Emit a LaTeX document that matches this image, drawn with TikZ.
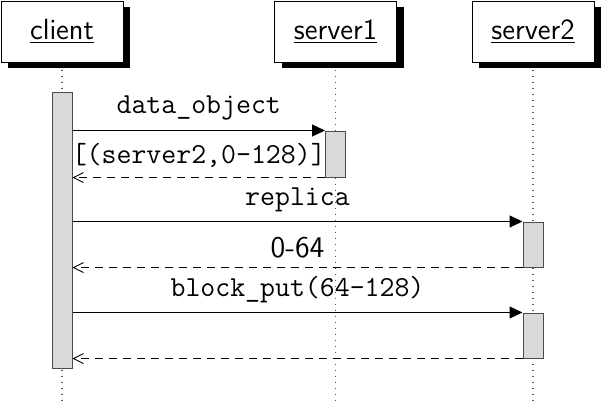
\documentclass[tikz,border=0pt]{standalone}
\usetikzlibrary{arrows.meta,shadows}
\definecolor{barfill}{gray}{0.85}
\definecolor{bardraw}{gray}{0.3}
\tikzset{
  big/.style={font=\fontsize{14.6}{17}\selectfont},
  objbox/.style={big, draw=black, line width=0.5pt, fill=white,
    minimum width=61pt, minimum height=30.5pt, inner sep=0pt,
    drop shadow={shadow xshift=3.5pt, shadow yshift=-3pt, fill=black, opacity=1}},
  lifeline/.style={gray!70!black, line width=0.55pt, dash pattern=on 0.55pt off 2.45pt},
  actbar/.style={draw=bardraw, fill=barfill, line width=0.5pt, minimum width=10pt,
    inner sep=0pt},
  callmsg/.style={line width=0.6pt, -{Triangle[length=6.5pt,width=6pt]}},
  retmsg/.style={line width=0.45pt, dash pattern=on 4pt off 3pt,
    -{Straight Barb[length=5pt,width=5pt,line width=0.45pt]}},
  msglabel/.style={midway, above, inner sep=4.67pt,
    font=\fontsize{14.5}{17}\selectfont\ttfamily},
  sflabel/.style={midway, above, inner sep=4.67pt,
    font=\fontsize{15}{17}\selectfont\sffamily}
}
\begin{document}
\begin{tikzpicture}[x=0.5pt, y=-0.5pt]
  \useasboundingbox (0,0) rectangle (601,403);

  % objects
  \node[objbox] (client)  at (62,31.5)    {\sffamily\underline{client}};
  \node[objbox] (server1) at (335.5,31.5) {\sffamily\underline{server1}};
  \node[objbox] (server2) at (533,31.5)   {\sffamily\underline{server2}};

  % lifelines
  \coordinate (clientend)  at (62,402);
  \coordinate (server1end) at (335.5,402);
  \coordinate (server2end) at (533,402);
  \draw[lifeline] ([yshift=-3.5pt]client.south)  -- (clientend);
  \draw[lifeline] ([yshift=-3.5pt]server1.south) -- (server1end);
  \draw[lifeline] ([yshift=-3.5pt]server2.south) -- (server2end);

  % activations
  \node[actbar, minimum height=138pt]  (clientbar) at (62,230) {};
  \node[actbar, minimum height=23pt]   (s1bar)     at (335.5,154) {};
  \node[actbar, minimum height=22.5pt] (s2bara)    at (533,244.5) {};
  \node[actbar, minimum height=22.5pt] (s2barb)    at (533,335.5) {};

  % messages
  \draw[callmsg] (clientbar.east |- s1bar.north west) -- (s1bar.north west)
    node[msglabel] {data\_object};
  \draw[retmsg] (s1bar.south west) -- (clientbar.east |- s1bar.south west)
    node[msglabel] {[(server2,0-128)]};

  \draw[callmsg] (clientbar.east |- s2bara.north west) -- (s2bara.north west)
    node[msglabel] {replica};
  \draw[retmsg] (s2bara.south west) -- (clientbar.east |- s2bara.south west)
    node[sflabel] {0-64};

  \draw[callmsg] (clientbar.east |- s2barb.north west) -- (s2barb.north west)
    node[msglabel] {block\_put(64-128)};
  \draw[retmsg] (s2barb.south west) -- (clientbar.east |- s2barb.south west);
\end{tikzpicture}
\end{document}
